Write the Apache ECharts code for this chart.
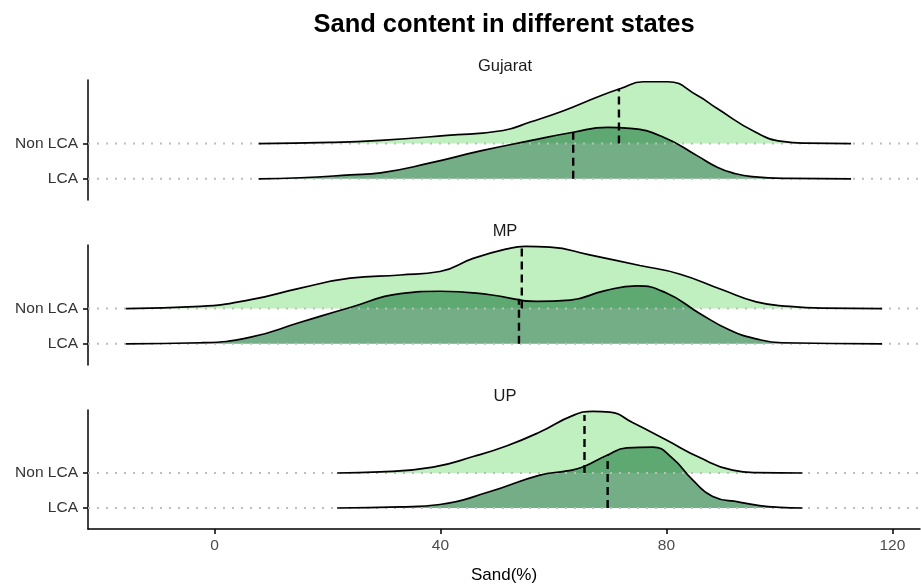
<!DOCTYPE html>
<html>
<head>
<meta charset="utf-8">
<script src="https://cdn.jsdelivr.net/npm/echarts@6/dist/echarts.min.js"></script>
<style>
html, body { margin: 0; padding: 0; background: #fff; }
#chart { width: 921px; height: 585px; }
</style>
</head>
<body>
<div id="chart"></div>
<script>
var states = ['Gujarat', 'MP', 'UP'];
var groups = ['LCA', 'Non LCA'];
var xTicks = [0, 40, 80, 120];
var xMin = -22.4, xMax = 124.9;

// density curves: [sand %, ridge height in row units]
var gujaratNon = [[7.8,0],[20.5,0.03],[29.4,0.09],[41.2,0.23],[51.1,0.37],[55.9,0.61],[61.8,0.93],[67.8,1.32],[71.9,1.56],[75.9,1.75],[80.2,1.75],[85.5,1.36],[89.0,0.99],[95.9,0.31],[100.5,0.06],[104.8,0.01],[112.7,0]];
var gujaratLca = [[7.8,0],[15.2,0.03],[24.0,0.11],[29.4,0.17],[38.2,0.45],[47.1,0.79],[55.9,1.08],[63.5,1.32],[69.6,1.46],[73.6,1.43],[79.5,1.18],[85.5,0.65],[89.0,0.33],[91.7,0.17],[95.2,0.06],[101.8,0.01],[112.7,0]];
var mpNon = [[-15.7,0],[-2.5,0.06],[6.4,0.25],[15.2,0.58],[24.0,0.86],[32.9,0.95],[39.9,1.05],[45.8,1.42],[51.8,1.69],[55.0,1.76],[59.4,1.74],[66.4,1.52],[75.3,1.22],[82.3,0.98],[89.9,0.53],[95.9,0.19],[101.8,0.06],[107.6,0.01],[118.2,0]];
var mpLca = [[-15.7,0],[-2.5,0.03],[6.4,0.19],[15.2,0.61],[24.0,1.03],[32.9,1.42],[39.9,1.49],[48.8,1.39],[57.0,1.2],[63.0,1.24],[69.0,1.5],[74.7,1.64],[80.0,1.44],[85.9,0.86],[91.2,0.39],[95.9,0.14],[100.5,0.03],[118.2,0]];
var upNon = [[21.7,0],[29.3,0.03],[38.7,0.17],[45.8,0.47],[51.8,0.78],[57.6,1.17],[63.4,1.64],[67.0,1.76],[70.0,1.74],[74.0,1.44],[80.0,0.94],[85.9,0.44],[91.7,0.08],[95.9,0.01],[104.1,0]];
var upLca = [[21.7,0],[32.9,0.03],[39.9,0.1],[48.8,0.47],[57.6,0.94],[62.4,1.06],[65.2,1.17],[69.4,1.5],[73.0,1.72],[77.6,1.74],[81.1,1.42],[84.6,0.81],[88.2,0.33],[92.9,0.17],[96.5,0.07],[100.0,0.02],[104.1,0]];

var nonCurves = [gujaratNon, mpNon, upNon];
var lcaCurves = [gujaratLca, mpLca, upLca];

// medians (dashed lines) and the ridge height where they stop
var medianNon = [71.6, 54.4, 65.5];
var medianNonH = [1.55, 1.74, 1.66];
var medianLca = [63.5, 53.9, 69.6];
var medianLcaH = [1.32, 1.28, 1.52];

var gridTops = [80, 245, 410];
var nonFill = 'rgba(130,225,130,0.5)';
var lcaFill = 'rgba(40,130,70,0.65)';
var fontFam = '"Liberation Sans", Arial, sans-serif';

var myChart = echarts.init(document.getElementById('chart'));

function ridge(curve, base, i, fill) {
	return {
		type: 'line', xAxisIndex: i, yAxisIndex: i,
		data: curve.map(function (p) { return [p[0], base + p[1]]; }),
		smooth: 0.5, symbol: 'none', silent: true,
		lineStyle: { color: '#000', width: 1.7 },
		areaStyle: { color: fill, origin: base, opacity: 1 }
	};
}

function baseline(base, i) {
	return {
		type: 'line', xAxisIndex: i, yAxisIndex: i,
		data: [[xMin, base], [xMax, base]],
		symbol: 'none', silent: true,
		lineStyle: { color: '#bdbdbd', width: 2, type: [2, 7] }
	};
}

function median(x, base, h, i) {
	return {
		type: 'line', xAxisIndex: i, yAxisIndex: i,
		data: [[x, base], [x, base + h]],
		symbol: 'none', silent: true,
		lineStyle: { color: '#000', width: 2.4, type: [8, 5] }
	};
}

var grids = [], xAxes = [], yAxes = [], series = [];
var titles = [{
	text: 'Sand content in different states', left: 499, top: 7, textAlign: 'center',
	textStyle: { fontFamily: fontFam, fontSize: 25.5, fontWeight: 'bold', color: '#000' }
}];

for (var i = 0; i < states.length; i++) {
	grids.push({ left: 88, right: 1, top: gridTops[i], height: 120 });
	titles.push({
		text: states[i], left: 500, top: gridTops[i] - 27, textAlign: 'center',
		textStyle: { fontFamily: fontFam, fontSize: 16.5, fontWeight: 'normal', color: '#1a1a1a' }
	});
	var last = i === states.length - 1;
	xAxes.push({
		gridIndex: i, type: 'value', min: xMin, max: xMax,
		show: last,
		name: last ? 'Sand(%)' : '', nameLocation: 'middle', nameGap: 38,
		nameTextStyle: { fontFamily: fontFam, fontSize: 17, color: '#000' },
		axisLine: { show: true, onZero: false, lineStyle: { color: '#000', width: 1.5 } },
		axisTick: { show: true, customValues: xTicks, length: 5, lineStyle: { color: '#000', width: 1.5 } },
		axisLabel: { customValues: xTicks, color: '#4d4d4d', fontSize: 15.5, fontFamily: fontFam, margin: 9 },
		splitLine: { show: false }
	});
	yAxes.push({
		gridIndex: i, type: 'value', min: -0.6, max: 2.8,
		axisLine: { show: true, onZero: false, lineStyle: { color: '#000', width: 1.5 } },
		axisTick: { show: true, customValues: [0, 1], length: 5, lineStyle: { color: '#000', width: 1.5 } },
		axisLabel: {
			customValues: [0, 1], color: '#333', fontSize: 15.5, fontFamily: fontFam, margin: 10,
			formatter: function (v) { return groups[v]; }
		},
		splitLine: { show: false }
	});
	series.push(baseline(0, i));
	series.push(baseline(1, i));
	series.push(ridge(nonCurves[i], 1, i, nonFill));
	series.push(median(medianNon[i], 1, medianNonH[i], i));
	series.push(ridge(lcaCurves[i], 0, i, lcaFill));
	series.push(median(medianLca[i], 0, medianLcaH[i], i));
}

option = {
	animation: false,
	backgroundColor: '#fff',
	title: titles,
	grid: grids,
	xAxis: xAxes,
	yAxis: yAxes,
	series: series
};
myChart.setOption(option);
</script>
</body>
</html>
